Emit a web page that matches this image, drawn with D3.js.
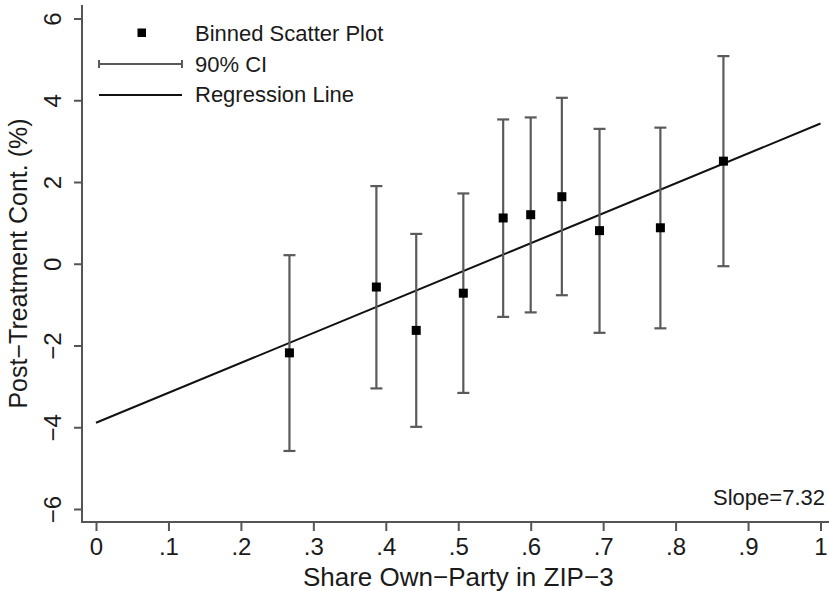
<!DOCTYPE html>
<html>
<head>
<meta charset="utf-8">
<script src="https://cdn.jsdelivr.net/npm/d3@7"></script>
<style>
  body { margin: 0; background: #fff; }
  svg text { font-family: "Liberation Sans", Arial, sans-serif; fill: #1a1a1a; }
</style>
</head>
<body>
<script>
// binned scatter values
const binX = [0.267, 0.387, 0.442, 0.507, 0.562, 0.600, 0.643, 0.695, 0.779, 0.866];
const binY = [-2.18, -0.57, -1.63, -0.72, 1.12, 1.20, 1.64, 0.81, 0.88, 2.51];
const ciLow = [-4.58, -3.05, -3.99, -3.16, -1.30, -1.19, -0.77, -1.69, -1.58, -0.06];
const ciHigh = [0.21, 1.90, 0.73, 1.72, 3.53, 3.58, 4.06, 3.30, 3.33, 5.08];
const xTicks = [0, .1, .2, .3, .4, .5, .6, .7, .8, .9, 1];
const yTicks = [-6, -4, -2, 0, 2, 4, 6];
const intercept = -3.89;
const slope = 7.32;
const legendLabels = ["Binned Scatter Plot", "90% CI", "Regression Line"];

const width = 829, height = 591;
const svg = d3.select('body').append('svg')
  .attr('width', width)
  .attr('height', height);

const x = d3.scaleLinear().domain([0, 1]).range([96, 820.5]);
const y = d3.scaleLinear().domain([-6, 6]).range([509, 18.5]);
const axisColor = '#555';

// y axis
const yAxis = svg.append('g')
  .attr('transform', 'translate(82,0)')
  .call(d3.axisLeft(y).tickValues(yTicks).tickSize(8).tickPadding(12)
    .tickFormat(d => d3.format('d')(d).replace('-', '\u2212')));
yAxis.select('.domain').remove();
yAxis.append('line').attr('x1', 0).attr('x2', 0).attr('y1', 5).attr('y2', 523)
  .attr('stroke', axisColor).attr('stroke-width', 2);
yAxis.selectAll('.tick line').attr('stroke', axisColor).attr('stroke-width', 2);
yAxis.selectAll('.tick text')
  .attr('font-size', 24)
  .attr('x', null).attr('dy', null)
  .attr('text-anchor', 'middle')
  .attr('transform', 'translate(-21,0) rotate(-90)')
  .attr('fill', '#1a1a1a');

// x axis
const xAxis = svg.append('g')
  .attr('transform', 'translate(0,522)')
  .call(d3.axisBottom(x).tickValues(xTicks).tickSize(9).tickPadding(7)
    .tickFormat(d => d === 0 ? '0' : d === 1 ? '1' : d3.format('.1f')(d).replace(/^0/, '')));
xAxis.select('.domain').remove();
xAxis.append('line').attr('x1', 81).attr('x2', width).attr('y1', 0).attr('y2', 0)
  .attr('stroke', axisColor).attr('stroke-width', 2);
xAxis.selectAll('.tick line').attr('stroke', axisColor).attr('stroke-width', 2);
xAxis.selectAll('.tick text').attr('font-size', 24).attr('fill', '#1a1a1a');

// axis titles
svg.append('text')
  .attr('x', (x(0) + x(1)) / 2).attr('y', 586)
  .attr('text-anchor', 'middle').attr('font-size', 26)
  .text('Share Own\u2212Party in ZIP\u22123');
svg.append('text')
  .attr('transform', `translate(27,${(5 + 522) / 2}) rotate(-90)`)
  .attr('text-anchor', 'middle').attr('font-size', 25)
  .text('Post\u2212Treatment Cont. (%)');

// regression line
svg.append('line')
  .attr('x1', x(0)).attr('y1', y(intercept))
  .attr('x2', x(1)).attr('y2', y(intercept + slope))
  .attr('stroke', '#111').attr('stroke-width', 2);

// confidence intervals
const bins = binX.map((d, i) => ({ x: d, y: binY[i], lo: ciLow[i], hi: ciHigh[i] }));
const ci = svg.append('g').attr('stroke', '#5a5a5a').attr('stroke-width', 2.2);
ci.selectAll('.bar').data(bins).enter().append('line')
  .attr('x1', d => x(d.x)).attr('x2', d => x(d.x))
  .attr('y1', d => y(d.lo)).attr('y2', d => y(d.hi));
ci.selectAll('.capHi').data(bins).enter().append('line')
  .attr('x1', d => x(d.x) - 6).attr('x2', d => x(d.x) + 6)
  .attr('y1', d => y(d.hi)).attr('y2', d => y(d.hi));
ci.selectAll('.capLo').data(bins).enter().append('line')
  .attr('x1', d => x(d.x) - 6).attr('x2', d => x(d.x) + 6)
  .attr('y1', d => y(d.lo)).attr('y2', d => y(d.lo));

// markers
svg.append('g').selectAll('rect').data(bins).enter().append('rect')
  .attr('x', d => x(d.x) - 4.5).attr('y', d => y(d.y) - 4.5)
  .attr('width', 9).attr('height', 9).attr('fill', '#000');

// slope annotation
svg.append('text')
  .attr('x', 825).attr('y', 505).attr('text-anchor', 'end').attr('font-size', 22)
  .text(`Slope=${slope.toFixed(2)}`);

// legend
const legend = svg.append('g');
legend.append('rect').attr('x', 137.5).attr('y', 28.5).attr('width', 8.5).attr('height', 8.5).attr('fill', '#000');
legend.append('line').attr('x1', 99).attr('x2', 182).attr('y1', 64).attr('y2', 64)
  .attr('stroke', '#5a5a5a').attr('stroke-width', 2);
[99, 182].forEach(px => legend.append('line').attr('x1', px).attr('x2', px).attr('y1', 60).attr('y2', 68)
  .attr('stroke', '#5a5a5a').attr('stroke-width', 2));
legend.append('line').attr('x1', 99).attr('x2', 182).attr('y1', 95).attr('y2', 95)
  .attr('stroke', '#111').attr('stroke-width', 2);
legend.selectAll('.lab').data(legendLabels).enter().append('text')
  .attr('x', 195).attr('y', (d, i) => 41 + i * 30.5)
  .attr('font-size', 22)
  .text(d => d);
</script>
</body>
</html>
